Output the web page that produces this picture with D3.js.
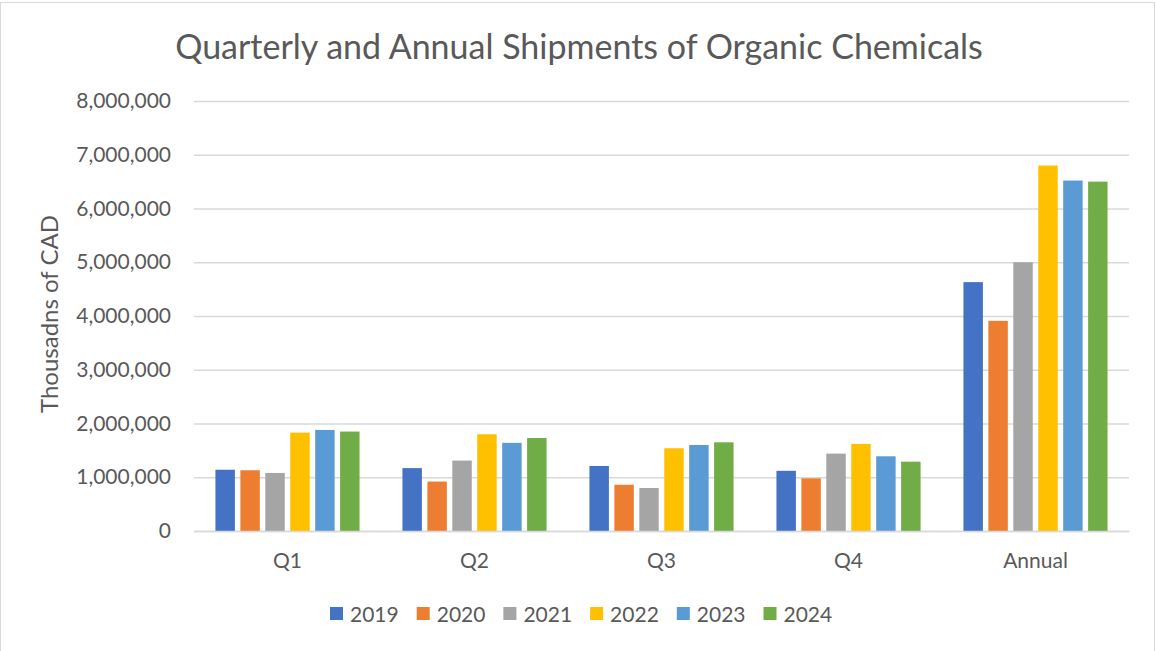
<!DOCTYPE html>
<html>
<head>
<meta charset="utf-8">
<script src="https://cdn.jsdelivr.net/npm/d3@7"></script>
<style>
  body { margin: 0; background: #fff; }
  svg text { font-family: Lato, "Open Sans", sans-serif; fill: #595959; }
</style>
</head>
<body>
<svg width="1156" height="651"></svg>
<script>
var categories = ["Q1", "Q2", "Q3", "Q4", "Annual"];
var years = ["2019", "2020", "2021", "2022", "2023", "2024"];
var colors = ["#4472c4", "#ed7d31", "#a5a5a5", "#ffc000", "#5b9bd5", "#70ad47"];
var yTicks = [0, 1000000, 2000000, 3000000, 4000000, 5000000, 6000000, 7000000, 8000000];

// values per year, in category order
var v2019 = [1140000, 1170000, 1210000, 1120000, 4630000];
var v2020 = [1130000, 920000, 860000, 980000, 3910000];
var v2021 = [1080000, 1310000, 800000, 1440000, 5000000];
var v2022 = [1830000, 1800000, 1540000, 1620000, 6800000];
var v2023 = [1880000, 1640000, 1600000, 1390000, 6520000];
var v2024 = [1850000, 1730000, 1650000, 1290000, 6500000];
var series = [v2019, v2020, v2021, v2022, v2023, v2024];

var svg = d3.select("svg");
var margin = {top: 101, left: 194, right: 27, bottom: 120};
var width = 1156 - margin.left - margin.right,
    height = 531 - margin.top;

svg.append("rect")
    .attr("x", 0.5).attr("y", 2.5)
    .attr("width", 1154).attr("height", 660)
    .attr("fill", "none").attr("stroke", "#d9d9d9");

svg.append("text")
    .attr("x", 579).attr("y", 59)
    .attr("text-anchor", "middle")
    .style("font-size", "34px")
    .text("Quarterly and Annual Shipments of Organic Chemicals");

var g = svg.append("g").attr("transform", "translate(" + margin.left + "," + margin.top + ")");

var x0 = d3.scaleBand().domain(categories).range([0, width]).paddingInner(0).paddingOuter(0);
var slot = x0.bandwidth() / (6 + 1.5);
var x1 = d3.scaleBand().domain(years)
    .range([slot * 0.75, slot * 6.75]).paddingInner(0.22).paddingOuter(0.11);

var y = d3.scaleLinear().domain([0, 8000000]).range([height, 0]);

// grid
g.append("g")
    .attr("class", "grid")
    .call(d3.axisLeft(y).tickValues(yTicks).tickSize(-width).tickFormat(""))
    .call(function(s){
      s.select(".domain").remove();
      s.selectAll("line").attr("stroke", "#d9d9d9").attr("stroke-width", 1.5);
    });

// y labels
g.append("g")
    .call(d3.axisLeft(y).tickValues(yTicks).tickSize(0).tickPadding(23).tickFormat(d3.format(",")))
    .call(function(s){
      s.select(".domain").remove();
      s.selectAll("text").style("font-size", "21px").style("fill", "#595959").style("font-family", "Lato, sans-serif");
    });

// bars
var groups = g.selectAll(".series")
    .data(series)
    .enter().append("g")
    .attr("fill", function(d, i){ return colors[i]; });

groups.selectAll("rect")
    .data(function(d, i){ return d.map(function(v, j){ return {cat: categories[j], year: years[i], value: v}; }); })
    .enter().append("rect")
    .attr("x", function(d){ return x0(d.cat) + x1(d.year); })
    .attr("width", x1.bandwidth())
    .attr("y", function(d){ return y(d.value); })
    .attr("height", function(d){ return height - y(d.value); });

// x axis
g.append("g")
    .attr("transform", "translate(0," + height + ")")
    .call(d3.axisBottom(x0).tickSize(0).tickPadding(22))
    .call(function(s){
      s.select(".domain").attr("stroke", "#d9d9d9").attr("stroke-width", 1.5);
      s.selectAll("text").style("font-size", "21px").style("fill", "#595959").style("font-family", "Lato, sans-serif");
    });

svg.append("text")
    .attr("transform", "translate(58,314) rotate(-90)")
    .attr("text-anchor", "middle")
    .style("font-size", "24px")
    .text("Thousadns of CAD");

// legend
var legend = svg.append("g").attr("transform", "translate(330,614)");
var item = legend.selectAll("g")
    .data(years)
    .enter().append("g")
    .attr("transform", function(d, i){ return "translate(" + (i * 86.7) + ",0)"; });
item.append("rect")
    .attr("x", 0).attr("y", -7).attr("width", 13).attr("height", 13)
    .attr("fill", function(d, i){ return colors[i]; });
item.append("text")
    .attr("x", 20).attr("y", 7.5)
    .style("font-size", "21px")
    .text(function(d){ return d; });
</script>
</body>
</html>
